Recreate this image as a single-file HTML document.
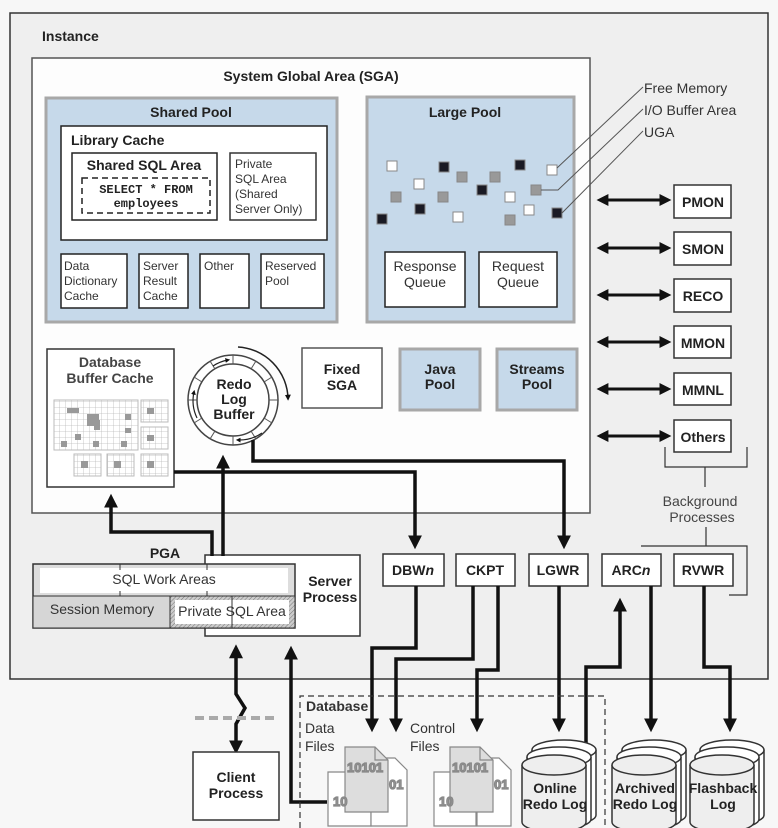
<!DOCTYPE html>
<html><head><meta charset="utf-8"><style>
html,body{margin:0;padding:0;background:#f7f7f7;}
svg{display:block;font-family:"Liberation Sans",sans-serif;}
.b{font-weight:bold;}
</style></head><body>
<svg width="778" height="828" viewBox="0 0 778 828" xmlns="http://www.w3.org/2000/svg">
<defs>
<marker id="ah" markerWidth="4" markerHeight="4" refX="2.2" refY="2" orient="auto" markerUnits="strokeWidth"><path d="M0,0 L4,2 L0,4 z" fill="#111"/></marker>
<marker id="as" markerWidth="4" markerHeight="4" refX="1.8" refY="2" orient="auto-start-reverse" markerUnits="strokeWidth"><path d="M0,0 L4,2 L0,4 z" fill="#111"/></marker>
<pattern id="grid" width="6" height="6" patternUnits="userSpaceOnUse"><path d="M6,0 V6 H0" fill="none" stroke="#bbb" stroke-width="0.8"/></pattern>
<pattern id="hatch" width="3" height="3" patternUnits="userSpaceOnUse" patternTransform="rotate(45)"><rect width="3" height="3" fill="#ccc"/><line x1="0" y1="0" x2="0" y2="3" stroke="#777" stroke-width="1"/></pattern>
</defs>
<rect x="0" y="0" width="778" height="828" fill="#f7f7f7"/>
<!-- Instance -->
<rect x="10" y="13" width="758" height="666" fill="#efefef" stroke="#333" stroke-width="1.5"/>
<text x="42" y="41" class="b" font-size="14" fill="#222">Instance</text>
<!-- SGA -->
<rect x="32" y="58" width="558" height="455" fill="#fdfdfd" stroke="#555" stroke-width="1.5"/>
<text x="311" y="81" class="b" font-size="14" text-anchor="middle" fill="#222">System Global Area (SGA)</text>
<!-- Shared Pool -->
<rect x="46" y="98" width="291" height="224" fill="#c6d9ea" stroke="#a8a8a8" stroke-width="3"/>
<text x="191" y="117" class="b" font-size="14" text-anchor="middle" fill="#222">Shared Pool</text>
<rect x="61" y="126" width="266" height="114" fill="#fff" stroke="#222" stroke-width="1.5"/>
<text x="71" y="145" class="b" font-size="14" fill="#222">Library Cache</text>
<rect x="72" y="153" width="145" height="67" fill="#fff" stroke="#222" stroke-width="1.5"/>
<text x="144" y="170" class="b" font-size="14" text-anchor="middle" fill="#222">Shared SQL Area</text>
<rect x="82" y="178" width="128" height="35" fill="none" stroke="#222" stroke-width="1.5" stroke-dasharray="6,4"/>
<text x="146" y="193" class="b" font-size="12" text-anchor="middle" font-family="Liberation Mono,monospace" fill="#222">SELECT * FROM</text>
<text x="146" y="207" class="b" font-size="12" text-anchor="middle" font-family="Liberation Mono,monospace" fill="#222">employees</text>
<rect x="230" y="153" width="86" height="67" fill="#fff" stroke="#333" stroke-width="1.5"/>
<g font-size="12" fill="#333"><text x="235" y="168">Private</text><text x="235" y="183">SQL Area</text><text x="235" y="198">(Shared</text><text x="235" y="213">Server Only)</text></g>
<g fill="#fff" stroke="#222" stroke-width="1.5">
<rect x="61" y="254" width="66" height="54"/><rect x="139" y="254" width="49" height="54"/><rect x="200" y="254" width="49" height="54"/><rect x="261" y="254" width="63" height="54"/></g>
<g font-size="12" fill="#333">
<text x="64" y="270">Data</text><text x="64" y="285">Dictionary</text><text x="64" y="300">Cache</text>
<text x="143" y="270">Server</text><text x="143" y="285">Result</text><text x="143" y="300">Cache</text>
<text x="204" y="270">Other</text>
<text x="265" y="270">Reserved</text><text x="265" y="285">Pool</text></g>
<!-- Large Pool -->
<rect x="367" y="97" width="207" height="225" fill="#c6d9ea" stroke="#a8a8a8" stroke-width="3"/>
<text x="465" y="117" class="b" font-size="14" text-anchor="middle" fill="#222">Large Pool</text>
<g stroke="#888" stroke-width="1">
<rect x="387" y="161" width="10" height="10" fill="#fff"/>
<rect x="439" y="162" width="10" height="10" fill="#1a1a24"/>
<rect x="457" y="172" width="10" height="10" fill="#999"/>
<rect x="490" y="172" width="10" height="10" fill="#999"/>
<rect x="515" y="160" width="10" height="10" fill="#1a1a24"/>
<rect x="547" y="165" width="10" height="10" fill="#fff"/>
<rect x="414" y="179" width="10" height="10" fill="#fff"/>
<rect x="391" y="192" width="10" height="10" fill="#999"/>
<rect x="438" y="192" width="10" height="10" fill="#999"/>
<rect x="477" y="185" width="10" height="10" fill="#1a1a24"/>
<rect x="505" y="192" width="10" height="10" fill="#fff"/>
<rect x="531" y="185" width="10" height="10" fill="#999"/>
<rect x="415" y="204" width="10" height="10" fill="#1a1a24"/>
<rect x="453" y="212" width="10" height="10" fill="#fff"/>
<rect x="524" y="205" width="10" height="10" fill="#fff"/>
<rect x="552" y="208" width="10" height="10" fill="#1a1a24"/>
<rect x="377" y="214" width="10" height="10" fill="#1a1a24"/>
<rect x="505" y="215" width="10" height="10" fill="#999"/>
</g>
<g fill="#fff" stroke="#222" stroke-width="1.5"><rect x="385" y="252" width="80" height="55"/><rect x="479" y="252" width="78" height="55"/></g>
<g font-size="14" fill="#333" text-anchor="middle"><text x="425" y="271">Response</text><text x="425" y="287">Queue</text><text x="518" y="271">Request</text><text x="518" y="287">Queue</text></g>
<!-- leader lines -->
<g stroke="#555" stroke-width="1" fill="none"><path d="M557,168 L643,87"/><path d="M541,190 L558,190 L643,109"/><path d="M562,213 L643,131"/></g>
<g font-size="14" fill="#333"><text x="644" y="93">Free Memory</text><text x="644" y="115">I/O Buffer Area</text><text x="644" y="137">UGA</text></g>
<!-- Fixed / Java / Streams -->
<rect x="302" y="348" width="80" height="60" fill="#fff" stroke="#555" stroke-width="1.5"/>
<text x="342" y="374" class="b" font-size="14" text-anchor="middle" fill="#222">Fixed</text><text x="342" y="390" class="b" font-size="14" text-anchor="middle" fill="#222">SGA</text>
<rect x="400" y="349" width="80" height="61" fill="#c6d9ea" stroke="#a8a8a8" stroke-width="3"/>
<text x="440" y="374" class="b" font-size="14" text-anchor="middle" fill="#222">Java</text><text x="440" y="389" class="b" font-size="14" text-anchor="middle" fill="#222">Pool</text>
<rect x="497" y="349" width="80" height="61" fill="#c6d9ea" stroke="#a8a8a8" stroke-width="3"/>
<text x="537" y="374" class="b" font-size="14" text-anchor="middle" fill="#222">Streams</text><text x="537" y="389" class="b" font-size="14" text-anchor="middle" fill="#222">Pool</text>
<!-- Buffer cache -->
<rect x="47" y="349" width="127" height="138" fill="#fff" stroke="#333" stroke-width="1.5"/>
<text x="110" y="367" class="b" font-size="14" text-anchor="middle" fill="#444">Database</text>
<text x="110" y="383" class="b" font-size="14" text-anchor="middle" fill="#444">Buffer Cache</text>
<g stroke="#bbb" stroke-width="1">
<rect x="54" y="400" width="84" height="50" fill="url(#grid)"/>
<rect x="141" y="400" width="27" height="22" fill="url(#grid)"/>
<rect x="141" y="427" width="27" height="22" fill="url(#grid)"/>
<rect x="74" y="454" width="27" height="22" fill="url(#grid)"/>
<rect x="107" y="454" width="27" height="22" fill="url(#grid)"/>
<rect x="141" y="454" width="27" height="22" fill="url(#grid)"/>
</g>
<g fill="#999"><rect x="67" y="408" width="12" height="5"/><rect x="87" y="414" width="12" height="12"/><rect x="94" y="420" width="6" height="10"/><rect x="125" y="414" width="6" height="6"/><rect x="125" y="428" width="6" height="5"/><rect x="75" y="434" width="6" height="6"/><rect x="61" y="441" width="6" height="6"/><rect x="93" y="441" width="6" height="6"/><rect x="121" y="441" width="6" height="6"/><rect x="147" y="408" width="7" height="6"/><rect x="147" y="435" width="7" height="6"/><rect x="81" y="461" width="7" height="7"/><rect x="114" y="461" width="7" height="7"/><rect x="147" y="461" width="7" height="7"/></g>
<!-- Redo Log Buffer -->
<circle cx="233" cy="400" r="45" fill="#fff" stroke="#444" stroke-width="1.5"/>
<circle cx="233" cy="400" r="36" fill="#fff" stroke="#444" stroke-width="1.5"/>
<g stroke="#555" stroke-width="1">
<line x1="233" y1="355" x2="233" y2="364"/><line x1="233" y1="436" x2="233" y2="445"/><line x1="188" y1="400" x2="197" y2="400"/><line x1="269" y1="400" x2="278" y2="400"/>
<line x1="256" y1="361" x2="251" y2="369"/><line x1="272" y1="377" x2="264" y2="382"/><line x1="272" y1="423" x2="264" y2="418"/><line x1="256" y1="439" x2="251" y2="431"/>
<line x1="210" y1="439" x2="215" y2="431"/><line x1="194" y1="423" x2="202" y2="418"/><line x1="194" y1="377" x2="202" y2="382"/><line x1="210" y1="361" x2="215" y2="369"/>
</g>
<g fill="none" stroke="#222" stroke-width="1.2">
<path d="M213,366 A40,40 0 0 1 228,360" marker-end="url(#ah)"/>
<path d="M197,418 A40,40 0 0 1 194,392" marker-end="url(#ah)"/>
<path d="M262,433 A40,40 0 0 1 238,440" marker-end="url(#ah)"/>
<path d="M238,347 A53,53 0 0 1 288,398" stroke-width="1.5" marker-end="url(#ah)"/>
</g>
<text x="234" y="389" class="b" font-size="14" text-anchor="middle" fill="#222">Redo</text>
<text x="234" y="404" class="b" font-size="14" text-anchor="middle" fill="#222">Log</text>
<text x="234" y="419" class="b" font-size="14" text-anchor="middle" fill="#222">Buffer</text>
<!-- Background processes right -->
<g fill="#fff" stroke="#333" stroke-width="1.5">
<rect x="674" y="185" width="57" height="33"/><rect x="674" y="232" width="57" height="33"/><rect x="674" y="279" width="57" height="33"/><rect x="674" y="326" width="57" height="32"/><rect x="674" y="373" width="57" height="32"/><rect x="674" y="420" width="57" height="32"/></g>
<g class="b" font-size="14" text-anchor="middle" fill="#222"><text x="703" y="207">PMON</text><text x="703" y="254">SMON</text><text x="703" y="301">RECO</text><text x="703" y="348">MMON</text><text x="703" y="395">MMNL</text><text x="703" y="442">Others</text></g>
<g stroke="#111" stroke-width="3" fill="none">
<line x1="603" y1="200" x2="666" y2="200" marker-start="url(#as)" marker-end="url(#ah)"/>
<line x1="603" y1="248" x2="666" y2="248" marker-start="url(#as)" marker-end="url(#ah)"/>
<line x1="603" y1="295" x2="666" y2="295" marker-start="url(#as)" marker-end="url(#ah)"/>
<line x1="603" y1="342" x2="666" y2="342" marker-start="url(#as)" marker-end="url(#ah)"/>
<line x1="603" y1="389" x2="666" y2="389" marker-start="url(#as)" marker-end="url(#ah)"/>
<line x1="603" y1="436" x2="666" y2="436" marker-start="url(#as)" marker-end="url(#ah)"/>
</g>
<g stroke="#333" stroke-width="1.2" fill="none">
<path d="M665,447 V467 H747 V447"/><line x1="705" y1="467" x2="705" y2="487"/>
<line x1="706" y1="527" x2="706" y2="546"/><path d="M641,546 H747 V595 H729"/>
</g>
<text x="700" y="506" font-size="14" text-anchor="middle" fill="#444">Background</text>
<text x="702" y="522" font-size="14" text-anchor="middle" fill="#444">Processes</text>
<!-- Bottom processes -->
<g fill="#fff" stroke="#333" stroke-width="1.5">
<rect x="383" y="554" width="61" height="32"/><rect x="456" y="554" width="59" height="32"/><rect x="529" y="554" width="59" height="32"/><rect x="602" y="554" width="59" height="32"/><rect x="674" y="554" width="59" height="32"/></g>
<g font-size="14" text-anchor="middle" fill="#222" class="b"><text x="413" y="575">DBW<tspan font-style="italic">n</tspan></text><text x="485" y="575">CKPT</text><text x="558" y="575">LGWR</text><text x="631" y="575">ARC<tspan font-style="italic">n</tspan></text><text x="703" y="575">RVWR</text></g>
<!-- PGA / Server Process -->
<rect x="205" y="555" width="155" height="81" fill="#fff" stroke="#333" stroke-width="1.5"/>
<text x="330" y="586" class="b" font-size="14" text-anchor="middle" fill="#222">Server</text>
<text x="330" y="602" class="b" font-size="14" text-anchor="middle" fill="#222">Process</text>
<text x="165" y="558" class="b" font-size="14" text-anchor="middle" fill="#222">PGA</text>
<rect x="33" y="564" width="262" height="64" fill="#ddd" stroke="#333" stroke-width="1.5"/>
<rect x="40" y="568" width="248" height="25" fill="#fff"/>
<rect x="33" y="596" width="137" height="32" fill="#d6d6d6" stroke="#333" stroke-width="1"/>
<rect x="170" y="596" width="125" height="32" fill="url(#hatch)" stroke="#333" stroke-width="1"/>
<rect x="175" y="600" width="114" height="24" fill="#fff"/>
<g stroke="#333" stroke-width="1"><line x1="120" y1="564" x2="120" y2="570"/><line x1="120" y1="591" x2="120" y2="596"/><line x1="207" y1="564" x2="207" y2="570"/><line x1="207" y1="591" x2="207" y2="596"/><line x1="232" y1="596" x2="232" y2="628"/></g>
<text x="164" y="584" font-size="14" text-anchor="middle" fill="#333">SQL Work Areas</text>
<text x="102" y="614" font-size="14" text-anchor="middle" fill="#333">Session Memory</text>
<text x="232" y="616" font-size="14" text-anchor="middle" fill="#333">Private SQL Area</text>
<!-- Thick connectors -->
<g stroke="#111" stroke-width="3.5" fill="none" stroke-linejoin="miter">
<path d="M212,556 V532 H111 V500" marker-end="url(#ah)"/>
<path d="M223,556 V461" marker-end="url(#ah)"/>
<path d="M253,440 V461 H564 V543" marker-end="url(#ah)"/>
<path d="M174,472 H415 V543" marker-end="url(#ah)"/>
<path d="M416,586 V648 H372 V726" marker-end="url(#ah)"/>
<path d="M473,586 V659 H396 V726" marker-end="url(#ah)"/>
<path d="M498,586 V670 H477 V726" marker-end="url(#ah)"/>
<path d="M559,586 V726" marker-end="url(#ah)"/>
<path d="M651,586 V726" marker-end="url(#ah)"/>
<path d="M704,586 V667 H730 V726" marker-end="url(#ah)"/>
<path d="M586,748 V667 H620 V604" marker-end="url(#ah)"/>
<path d="M327,802 H291 V652" marker-end="url(#ah)"/>
<path d="M236,652 V694 L245,708 L236,724 V748" marker-start="url(#as)" marker-end="url(#ah)"/>
</g>
<!-- Database area -->
<line x1="195" y1="718" x2="278" y2="718" stroke="#aaa" stroke-width="4" stroke-dasharray="9,5"/>
<path d="M300,828 V696 H605 V828" fill="none" stroke="#333" stroke-width="1.2" stroke-dasharray="6,4"/>
<text x="306" y="711" font-size="14" fill="#333" class="b">Database</text>
<text x="305" y="733" font-size="14" fill="#333">Data</text><text x="305" y="751" font-size="14" fill="#333">Files</text>
<text x="410" y="733" font-size="14" fill="#333">Control</text><text x="410" y="751" font-size="14" fill="#333">Files</text>
<rect x="193" y="752" width="86" height="68" fill="#fff" stroke="#333" stroke-width="1.5"/>
<text x="236" y="782" class="b" font-size="14" text-anchor="middle" fill="#222">Client</text>
<text x="236" y="798" class="b" font-size="14" text-anchor="middle" fill="#222">Process</text>
<!-- documents -->
<g stroke="#888" stroke-width="1.2" font-size="13" class="b" fill="#999">
<g><path d="M328,772 H362 L371,781 V826 H328 Z" fill="#fff"/><path d="M371,758 H395 L407,770 V826 H371 Z" fill="#fff"/><path d="M345,747 H375 L388,760 V812 H345 Z" fill="#ddd"/><path d="M375,747 V760 H388" fill="none"/>
<text x="333" y="806">10</text><text x="389" y="789">01</text><text x="347" y="772" fill="#999">10101</text></g>
<g><path d="M434,772 H465 L476,781 V826 H434 Z" fill="#fff"/><path d="M477,758 H499 L511,770 V826 H477 Z" fill="#fff"/><path d="M450,747 H480 L493,760 V812 H450 Z" fill="#ddd"/><path d="M480,747 V760 H493" fill="none"/>
<text x="439" y="806">10</text><text x="494" y="789">01</text><text x="452" y="772">10101</text></g>
</g>
<!-- cylinders -->
<g stroke="#333" stroke-width="1.5" fill="#fff">
<g><path d="M532,750 V815 A32,10 0 0 0 596,815 V750"/><ellipse cx="564" cy="750" rx="32" ry="10"/><path d="M527,757 V819 A32,10 0 0 0 591,819 V757"/><ellipse cx="559" cy="757" rx="32" ry="10"/><path d="M522,765 V822 A32,10 0 0 0 586,822 V765" fill="#eee"/><ellipse cx="554" cy="765" rx="32" ry="10" fill="#eee"/></g>
<g><path d="M622,750 V815 A32,10 0 0 0 686,815 V750"/><ellipse cx="654" cy="750" rx="32" ry="10"/><path d="M617,757 V819 A32,10 0 0 0 681,819 V757"/><ellipse cx="649" cy="757" rx="32" ry="10"/><path d="M612,765 V822 A32,10 0 0 0 676,822 V765" fill="#eee"/><ellipse cx="644" cy="765" rx="32" ry="10" fill="#eee"/></g>
<g><path d="M700,750 V815 A32,10 0 0 0 764,815 V750"/><ellipse cx="732" cy="750" rx="32" ry="10"/><path d="M695,757 V819 A32,10 0 0 0 759,819 V757"/><ellipse cx="727" cy="757" rx="32" ry="10"/><path d="M690,765 V822 A32,10 0 0 0 754,822 V765" fill="#eee"/><ellipse cx="722" cy="765" rx="32" ry="10" fill="#eee"/></g>
</g>
<g font-size="14" text-anchor="middle" fill="#222" class="b">
<text x="555" y="793">Online</text><text x="555" y="809">Redo Log</text>
<text x="645" y="793">Archived</text><text x="645" y="809">Redo Log</text>
<text x="723" y="793">Flashback</text><text x="723" y="809">Log</text>
</g>
</svg>
</body></html>
